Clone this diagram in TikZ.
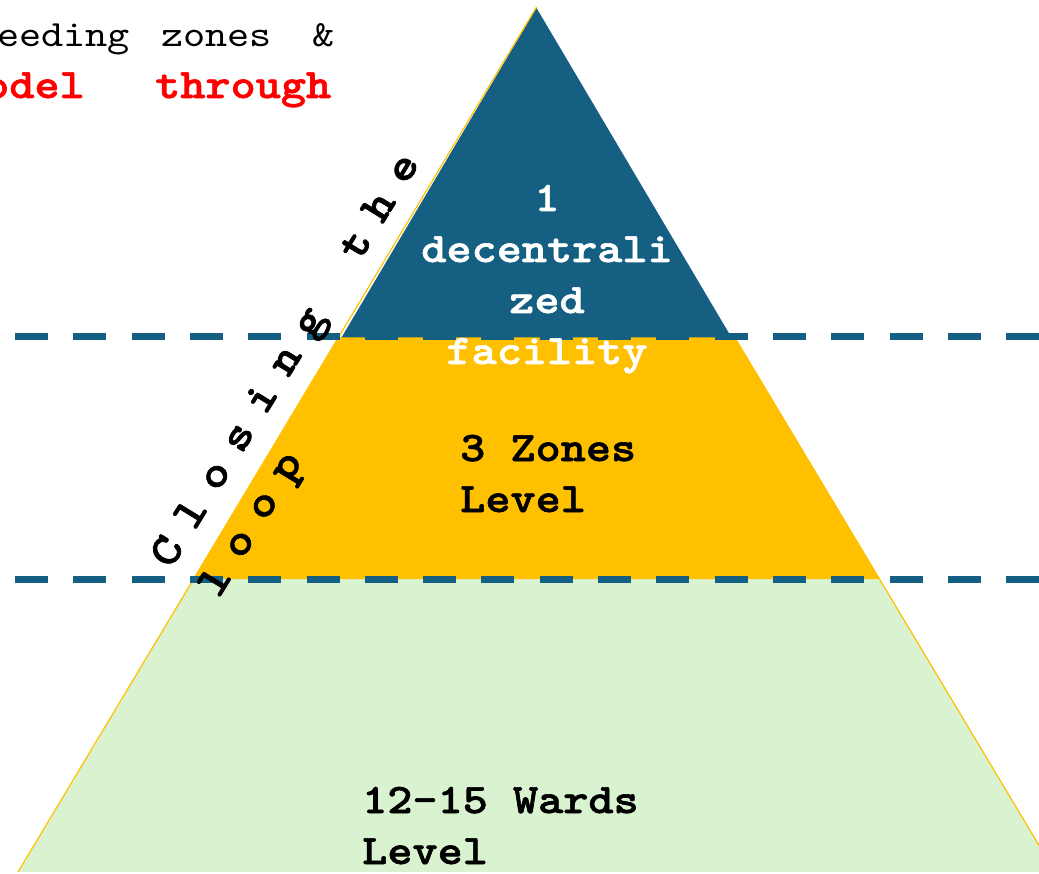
\documentclass[tikz,border=0pt]{standalone}
\usepackage{fontspec}
\newfontfamily\lmcour{lmmono10-regular.otf}[BoldFont=lmmonolt10-bold.otf, BoldFeatures={FakeBold=1.5}, FakeStretch=1.14]
\definecolor{pblue}{HTML}{156082}
\definecolor{pyellow}{HTML}{FFC000}
\definecolor{pgreen}{HTML}{D9F2D0}
\definecolor{pred}{HTML}{FF0000}
\newcommand\lsp[1]{\makebox[45pt][l]{#1}}
\newcommand\courbold{\lmcour\bfseries\fontsize{42}{51}\selectfont}
\newcommand\courboldbig{\lmcour\bfseries\fontsize{45}{51}\selectfont}
\newcommand\courreg{\lmcour\mdseries\fontsize{37}{44}\selectfont}
\begin{document}
\begin{tikzpicture}[x=1pt,y=-1pt,
  dashline/.style={draw=pblue,line width=7.5pt,dash pattern=on 33pt off 25.3pt},
  edgeline/.style={draw=pyellow,line width=1.2pt},
  lbl/.style={inner sep=0pt,font=\courbold},
  looptext/.style={inner sep=0pt,anchor=base west,rotate=58.5,font=\courboldbig},
  toptext/.style={inner sep=0pt,anchor=base west,font=\courreg},
  redtext/.style={inner sep=0pt,anchor=base west,text=pred,font=\courbold}]
\useasboundingbox (0,0) rectangle (1039,874);
\clip (0,0) rectangle (1039,874);
\coordinate (apex) at (536.5,7);
\coordinate (bl) at (18,872);
\coordinate (br) at (1055,872);
\coordinate (ml) at (193.5,579);
\coordinate (mr) at (879.5,579);
\coordinate (ul) at (338.5,337);
\coordinate (ur) at (734.5,337);
% layers
\fill[pgreen] (ml) -- (mr) -- (br) -- (bl) -- cycle;
\fill[pyellow] (ul) -- (ur) -- (mr) -- (ml) -- cycle;
\fill[pblue] (536.5,8) -- (731.5,337.5) -- (341.5,337.5) -- cycle;
\draw[edgeline] (bl) -- (apex);
\draw[edgeline] (ur) -- (br);
% dashed level lines
\coordinate (d1s) at (15,336.7);
\coordinate (d1e) at (1039,336.7);
\coordinate (d2s) at (15,579.3);
\coordinate (d2e) at (1039,579.3);
\draw[dashline] (d1s) -- (d1e);
\draw[dashline] (d2s) -- (d2e);
% labels (anchor base = baseline of the last line)
\node[lbl,text=white,align=center,anchor=base] (top) at (547,364) {1\\decentrali\\zed\\facility};
\node[lbl,text=black,align=left,anchor=base west] (mid) at (460,512) {3 Zones\\Level};
\node[lbl,text=black,align=left,anchor=base west] (bot) at (362,864) {12-15 Wards\\Level};
% rotated text
\node[looptext] (close1) at (171,570) {\lsp C\lsp l\lsp o\lsp s\lsp i\lsp n\lsp g\lsp{}\lsp t\lsp h\lsp e};
\node[looptext] (close2) at (218.5,599.5) {\lsp l\lsp o\lsp o\lsp p};
% top-left text
\node[toptext] (w1) at (-3,46.7) {eeding};
\node[toptext] (w2) at (161,46.7) {zones};
\node[toptext] (w3) at (312,46.7) {\&};
\node[redtext] (r1) at (-16,98) {odel};
\node[redtext] (r2) at (155,98) {through};
\end{tikzpicture}
\end{document}
